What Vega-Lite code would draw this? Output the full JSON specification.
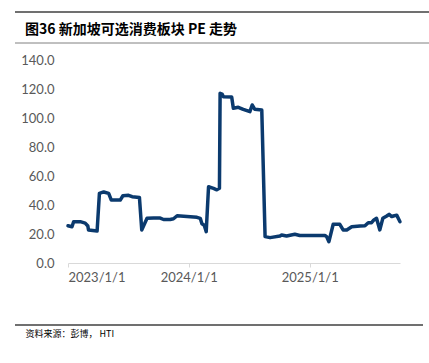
{
  "$schema": "https://vega.github.io/schema/vega-lite/v6.json",
  "autosize": "none",
  "width": 332,
  "height": 203,
  "padding": {"left": 68, "top": 60, "right": 29, "bottom": 100},
  "background": "white",
  "config": {"view": {"stroke": null}, "font": "Lato"},
  "title": {
    "text": "图36  新加坡可选消费板块 PE 走势",
    "anchor": "start",
    "frame": "group",
    "dx": -43,
    "offset": 0,
    "dy": 37,
    "baseline": "alphabetic",
    "font": "Noto Sans CJK SC",
    "fontSize": 14,
    "fontWeight": "bold",
    "color": "#000000"
  },
  "layer": [
    {
      "data": {"values": [{"k": "top"}]},
      "mark": {"type": "rule", "color": "#404040", "strokeWidth": 1.5, "clip": false},
      "encoding": {"x": {"value": -53}, "x2": {"value": 361}, "y": {"value": -48}}
    },
    {
      "data": {"values": [{"k": "mid"}]},
      "mark": {"type": "rule", "color": "#808080", "strokeWidth": 1, "clip": false},
      "encoding": {"x": {"value": -53}, "x2": {"value": 361}, "y": {"value": -17}}
    },
    {
      "data": {"values": [{"k": "bottom"}]},
      "mark": {"type": "rule", "color": "#404040", "strokeWidth": 1.5, "clip": false},
      "encoding": {"x": {"value": -53}, "x2": {"value": 355}, "y": {"value": 265}}
    },
    {
      "data": {"values": [
        {"date": "2023-01-01", "pe": 25.7},
        {"date": "2023-01-13", "pe": 25.0},
        {"date": "2023-01-18", "pe": 28.5},
        {"date": "2023-02-07", "pe": 28.5},
        {"date": "2023-02-22", "pe": 27.5},
        {"date": "2023-03-02", "pe": 25.5},
        {"date": "2023-03-04", "pe": 22.8},
        {"date": "2023-03-30", "pe": 22.0},
        {"date": "2023-04-06", "pe": 48.0},
        {"date": "2023-04-19", "pe": 49.0},
        {"date": "2023-05-04", "pe": 48.0},
        {"date": "2023-05-12", "pe": 43.4},
        {"date": "2023-06-08", "pe": 43.4},
        {"date": "2023-06-16", "pe": 46.4},
        {"date": "2023-07-03", "pe": 46.7},
        {"date": "2023-07-14", "pe": 45.7},
        {"date": "2023-08-05", "pe": 45.2},
        {"date": "2023-08-12", "pe": 22.8},
        {"date": "2023-08-28", "pe": 30.8},
        {"date": "2023-09-17", "pe": 31.0},
        {"date": "2023-10-07", "pe": 31.0},
        {"date": "2023-10-17", "pe": 30.0},
        {"date": "2023-11-06", "pe": 30.0},
        {"date": "2023-11-16", "pe": 30.5},
        {"date": "2023-11-27", "pe": 32.6},
        {"date": "2023-12-27", "pe": 32.0},
        {"date": "2024-01-26", "pe": 31.5},
        {"date": "2024-02-05", "pe": 30.8},
        {"date": "2024-02-10", "pe": 27.0},
        {"date": "2024-02-17", "pe": 26.0},
        {"date": "2024-02-23", "pe": 21.6},
        {"date": "2024-03-01", "pe": 52.6},
        {"date": "2024-03-16", "pe": 51.5},
        {"date": "2024-03-26", "pe": 50.5},
        {"date": "2024-04-03", "pe": 51.5},
        {"date": "2024-04-05", "pe": 117.0},
        {"date": "2024-04-11", "pe": 116.5},
        {"date": "2024-04-15", "pe": 114.7},
        {"date": "2024-05-10", "pe": 114.5},
        {"date": "2024-05-15", "pe": 106.7},
        {"date": "2024-05-30", "pe": 107.4},
        {"date": "2024-06-14", "pe": 106.0},
        {"date": "2024-07-04", "pe": 104.4},
        {"date": "2024-07-11", "pe": 109.0},
        {"date": "2024-07-19", "pe": 106.0},
        {"date": "2024-08-09", "pe": 105.5},
        {"date": "2024-08-19", "pe": 18.2},
        {"date": "2024-09-03", "pe": 17.5},
        {"date": "2024-10-03", "pe": 18.6},
        {"date": "2024-10-08", "pe": 19.3},
        {"date": "2024-10-23", "pe": 18.6},
        {"date": "2024-11-17", "pe": 19.8},
        {"date": "2024-12-02", "pe": 19.0},
        {"date": "2025-01-02", "pe": 19.0},
        {"date": "2025-02-16", "pe": 19.0},
        {"date": "2025-02-21", "pe": 18.2},
        {"date": "2025-02-28", "pe": 14.7},
        {"date": "2025-03-13", "pe": 26.7},
        {"date": "2025-04-02", "pe": 26.7},
        {"date": "2025-04-12", "pe": 22.8},
        {"date": "2025-04-23", "pe": 22.8},
        {"date": "2025-05-08", "pe": 25.0},
        {"date": "2025-06-02", "pe": 25.5},
        {"date": "2025-06-17", "pe": 25.7},
        {"date": "2025-06-27", "pe": 27.8},
        {"date": "2025-07-07", "pe": 27.8},
        {"date": "2025-07-14", "pe": 29.7},
        {"date": "2025-07-22", "pe": 30.8},
        {"date": "2025-08-01", "pe": 22.8},
        {"date": "2025-08-10", "pe": 30.8},
        {"date": "2025-08-22", "pe": 32.4},
        {"date": "2025-08-29", "pe": 33.6},
        {"date": "2025-09-06", "pe": 32.0},
        {"date": "2025-09-11", "pe": 32.4},
        {"date": "2025-09-21", "pe": 33.0},
        {"date": "2025-10-01", "pe": 28.5}
      ]},
      "mark": {"type": "line", "color": "#0b3a6e", "strokeWidth": 3.5, "strokeJoin": "round", "strokeCap": "round"},
      "encoding": {
        "x": {
          "field": "date",
          "type": "temporal",
          "scale": {"type": "utc", "domain": [{"year": 2023, "month": 1, "date": 1, "utc": true}, {"year": 2025, "month": 10, "date": 1, "utc": true}], "nice": false},
          "axis": {
            "values": [{"year": 2023, "month": 1, "date": 1, "utc": true}, {"year": 2024, "month": 1, "date": 1, "utc": true}, {"year": 2025, "month": 1, "date": 1, "utc": true}],
            "labelExpr": "utcFormat(datum.value, '%Y/%-m/%-d')",
            "grid": false,
            "domainColor": "#d9d9d9",
            "domainWidth": 1,
            "tickColor": "#d9d9d9",
            "tickSize": 4,
            "labelColor": "#595959",
            "labelFont": "Lato",
            "labelFontSize": 13,
            "labelPadding": 4,
            "title": "资料来源：彭博， HTI",
            "titleFont": "Noto Sans CJK SC",
            "titleFontSize": 9,
            "titleFontWeight": "normal",
            "titleColor": "#000000",
            "titleAnchor": "start",
            "titleAlign": "left",
            "titleBaseline": "middle",
            "titleX": -43,
            "titleY": 70
          }
        },
        "y": {
          "field": "pe",
          "type": "quantitative",
          "scale": {"domain": [0, 140], "nice": false},
          "axis": {
            "values": [0, 20, 40, 60, 80, 100, 120, 140],
            "format": ".1f",
            "grid": false,
            "domain": false,
            "ticks": false,
            "labelColor": "#595959",
            "labelFont": "Lato",
            "labelFontSize": 13,
            "labelPadding": 14,
            "title": null
          }
        }
      }
    }
  ]
}
